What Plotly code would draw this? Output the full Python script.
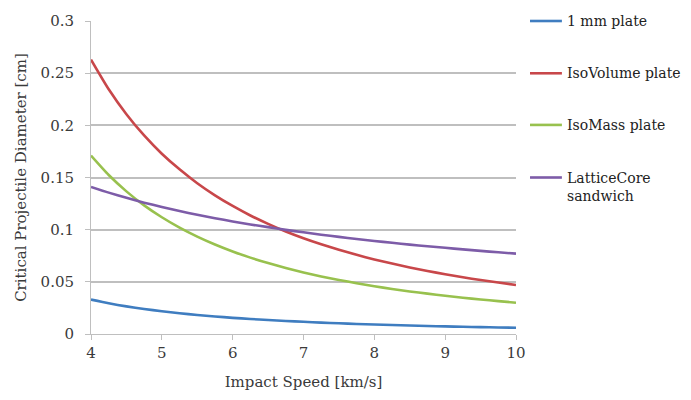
import plotly.graph_objects as go

# Impact speed samples [km/s]
speed = [4, 4.25, 4.5, 4.75, 5, 5.25, 5.5, 5.75, 6, 6.25, 6.5, 6.75, 7,
         7.25, 7.5, 7.75, 8, 8.25, 8.5, 8.75, 9, 9.25, 9.5, 9.75, 10]

# Critical projectile diameter [cm] for each shield concept
plate_1mm = [0.0330, 0.0295, 0.0265, 0.0240, 0.0218, 0.0199, 0.0182, 0.0168, 0.0155, 0.0144, 0.0134, 0.0125, 0.0117,
             0.0109, 0.0103, 0.0096, 0.0091, 0.0086, 0.0081, 0.0077, 0.0073, 0.0069, 0.0066, 0.0063, 0.0060]
isovolume = [0.2630, 0.2346, 0.2107, 0.1903, 0.1728, 0.1578, 0.1445, 0.1329, 0.1227, 0.1136, 0.1056, 0.0983, 0.0918,
             0.0860, 0.0807, 0.0759, 0.0715, 0.0675, 0.0638, 0.0604, 0.0573, 0.0544, 0.0517, 0.0493, 0.0470]
isomass = [0.1710, 0.1524, 0.1367, 0.1233, 0.1119, 0.1020, 0.0934, 0.0858, 0.0791, 0.0732, 0.0680, 0.0633, 0.0590,
           0.0552, 0.0518, 0.0487, 0.0458, 0.0432, 0.0408, 0.0387, 0.0366, 0.0348, 0.0331, 0.0315, 0.0300]
lattice = [0.1410, 0.1355, 0.1305, 0.1259, 0.1217, 0.1178, 0.1143, 0.1110, 0.1079, 0.1050, 0.1024, 0.0998, 0.0975,
           0.0952, 0.0931, 0.0911, 0.0892, 0.0874, 0.0857, 0.0841, 0.0826, 0.0811, 0.0797, 0.0783, 0.0770]

series_names = ["1 mm plate", "IsoVolume plate", "IsoMass plate", "LatticeCore<br>sandwich"]
series_values = [plate_1mm, isovolume, isomass, lattice]
series_colors = ["#3F7DC0", "#C8474A", "#98C14E", "#7D5CA8"]

y_ticks = [0, 0.05, 0.1, 0.15, 0.2, 0.25, 0.3]
y_tick_text = ["0", "0.05", "0.1", "0.15", "0.2", "0.25", "0.3"]
x_ticks = [4, 5, 6, 7, 8, 9, 10]

FONT = "DejaVu Serif"
TEXT = "#3A3A3A"

fig = go.Figure()
for name, vals, col in zip(series_names, series_values, series_colors):
    fig.add_trace(go.Scatter(
        x=speed, y=vals, name=name.replace("<br>", " "), mode="lines",
        line=dict(color=col, width=2.6, shape="spline", smoothing=0.6),
        showlegend=False,
    ))

# Key on the right: a short coloured stroke and the series name per entry,
# stacked one gridline-spacing apart starting at the top of the plot area.
key_x0, key_x1, key_text_x = 1.033, 1.108, 1.115
key_rows = [1.0, 0.833, 0.668, 0.5]
for name, col, yk in zip(series_names, series_colors, key_rows):
    fig.add_shape(type="line", xref="paper", yref="paper",
                  x0=key_x0, x1=key_x1, y0=yk, y1=yk,
                  line=dict(color=col, width=2.6))
    multi = "<br>" in name
    fig.add_annotation(
        xref="paper", yref="paper", x=key_text_x, y=yk + (0.029 if multi else 0),
        text=name, showarrow=False, xanchor="left",
        yanchor="top" if multi else "middle", align="left",
        font=dict(family=FONT, size=14, color="#222222"),
    )

fig.update_layout(
    width=691, height=400,
    margin=dict(l=91, r=175, t=20, b=64),
    paper_bgcolor="white", plot_bgcolor="white",
    font=dict(family=FONT, size=15, color=TEXT),
    showlegend=False,
    xaxis=dict(
        range=[4, 10], tickvals=x_ticks, ticktext=[str(v) for v in x_ticks],
        showgrid=False, zeroline=False,
        showline=True, linecolor="#BFBFBF", linewidth=1,
        ticks="outside", ticklen=5, tickcolor="#BFBFBF",
        tickfont=dict(family=FONT, size=15, color=TEXT),
        title=dict(text="Impact Speed [km/s]", font=dict(family=FONT, size=15, color=TEXT), standoff=15),
    ),
    yaxis=dict(
        range=[0, 0.3], tickvals=y_ticks, ticktext=y_tick_text,
        showgrid=True, gridcolor="#BFBFBF", gridwidth=1.5, zeroline=False,
        showline=True, linecolor="#BFBFBF", linewidth=1,
        ticks="outside", ticklen=5, tickcolor="#BFBFBF",
        ticklabelstandoff=8,
        tickfont=dict(family=FONT, size=15, color=TEXT),
        title=dict(text="Critical Projectile Diameter [cm]", font=dict(family=FONT, size=15, color=TEXT), standoff=10),
    ),
)

fig.write_html("out.html")
